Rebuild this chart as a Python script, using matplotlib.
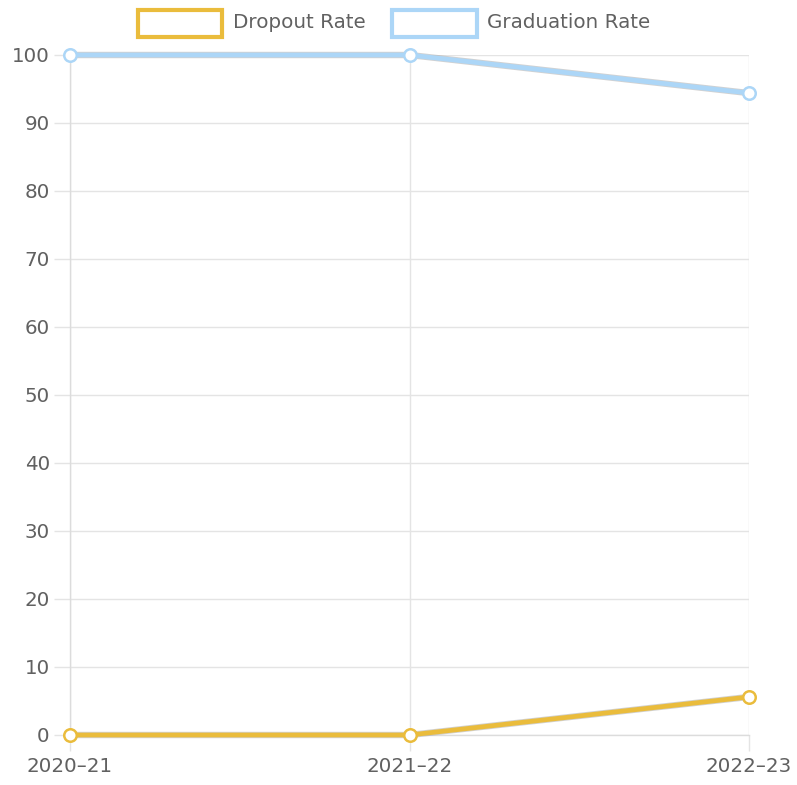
import matplotlib
matplotlib.use("Agg")
import matplotlib.pyplot as plt
from matplotlib.patches import Rectangle
import matplotlib.patheffects as pe

years = ["2020\u201321", "2021\u201322", "2022\u201323"]
dropout_rate = [0, 0, 5.6]
graduation_rate = [100, 100, 94.4]
series_names = ["Dropout Rate", "Graduation Rate"]
colors = ["#EABC3C", "#ACD6F7"]

plt.rcParams['font.family'] = ['DejaVu Sans']

W, H = 797, 785
fig = plt.figure(figsize=(W / 100, H / 100), dpi=100)
ax = fig.add_axes([70 / W, 50 / H, (749 - 70) / W, (735 - 55) / H])

x = list(range(len(years)))
for vals, c in zip([dropout_rate, graduation_rate], colors):
    ax.plot(x, vals, color=c, lw=3.4, solid_capstyle='butt', zorder=3, clip_on=False,
            path_effects=[pe.Stroke(linewidth=4.6, foreground='#9a9a9a', alpha=0.45),
                          pe.Normal()])
    ax.plot(x, vals, ls='none', marker='o', ms=9, mfc='white', mec=c, mew=1.8,
            zorder=4, clip_on=False)

ax.set_xlim(0, len(years) - 1)
ax.set_ylim(0, 100)
ax.set_yticks(range(0, 101, 10))
ax.set_xticks(x)
ax.set_xticklabels(years)
ax.grid(True, color='#e4e4e4', lw=1)
ax.set_axisbelow(True)
for s in ['top', 'right']:
    ax.spines[s].set_visible(False)
for s in ['left', 'bottom']:
    ax.spines[s].set_color('#dcdcdc')
    ax.spines[s].set_linewidth(1)
ax.tick_params(axis='both', colors='#e4e4e4', labelcolor='#616161', labelsize=14.3,
               length=11.5, width=1)
ax.tick_params(axis='y', pad=3)
ax.tick_params(axis='x', pad=4.5)

# legend
boxes = [(138, 222, 233), (392, 477, 487)]
for (x0, x1, tx), c, name in zip(boxes, colors, series_names):
    fig.add_artist(Rectangle((x0 / W, 1 - 37 / H), (x1 - x0) / W, 27 / H,
                             transform=fig.transFigure, facecolor='white',
                             edgecolor=c, lw=3))
    fig.text(tx / W, 1 - 22 / H, name, color='#616161', fontsize=14.3,
             va='center', ha='left')

fig.savefig("out.png", dpi=100)
